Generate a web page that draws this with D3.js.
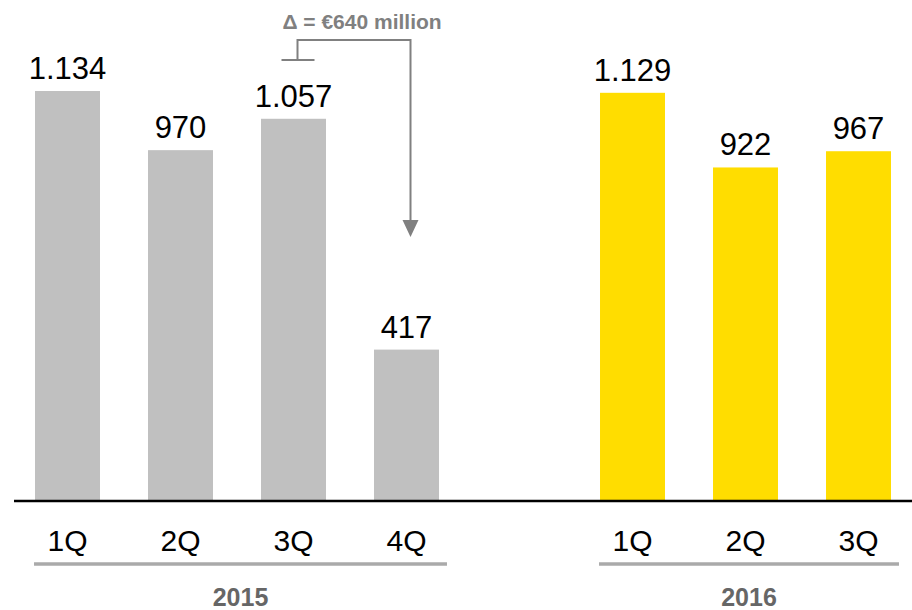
<!DOCTYPE html>
<html>
<head>
<meta charset="utf-8">
<script src="https://cdn.jsdelivr.net/npm/d3@7"></script>
<style>
  body { margin: 0; background: #fff; }
  svg { display: block; font-family: Arial, 'Liberation Sans', sans-serif; }
</style>
</head>
<body>
<svg width="912" height="610"></svg>
<script>
const quarters2015 = ['1Q', '2Q', '3Q', '4Q']
const values2015 = [1134, 970, 1057, 417]
const labels2015 = ['1.134', '970', '1.057', '417']

const quarters2016 = ['1Q', '2Q', '3Q']
const values2016 = [1129, 922, 967]
const labels2016 = ['1.129', '922', '967']

const years = ['2015', '2016']
const deltaText = 'Δ = €640 million'

const svg = d3.select('svg')

// one slot per quarter, plus an empty slot between the two years
const bars = [
  ...quarters2015.map((q, i) => ({ key: '2015-' + q, q, v: values2015[i], label: labels2015[i], year: '2015', fill: '#c0c0c0' })),
  ...quarters2016.map((q, i) => ({ key: '2016-' + q, q, v: values2016[i], label: labels2016[i], year: '2016', fill: '#ffdd00' }))
]
const slots = [...bars.slice(0, 4).map(d => d.key), 'gap', ...bars.slice(4).map(d => d.key)]

const x = d3.scaleBand()
  .domain(slots)
  .range([11, 915])
  .paddingInner(0.425)
  .paddingOuter(0.2125)

const y = d3.scaleLinear()
  .domain([0, d3.max([...values2015, ...values2016])])
  .range([500, 91])

svg.append('g')
  .selectAll('rect')
  .data(bars)
  .join('rect')
  .attr('x', d => x(d.key))
  .attr('y', d => y(d.v))
  .attr('width', x.bandwidth())
  .attr('height', d => y(0) - y(d.v))
  .attr('fill', d => d.fill)

svg.append('g')
  .selectAll('text')
  .data(bars)
  .join('text')
  .attr('x', d => x(d.key) + x.bandwidth() / 2)
  .attr('y', d => y(d.v) - 12)
  .attr('text-anchor', 'middle')
  .attr('font-size', 31)
  .attr('fill', '#000')
  .text(d => d.label)

// baseline
svg.append('line')
  .attr('x1', 14).attr('x2', 912)
  .attr('y1', y(0) + 1).attr('y2', y(0) + 1)
  .attr('stroke', '#000')
  .attr('stroke-width', 2.5)

// quarter labels
svg.append('g')
  .selectAll('text')
  .data(bars)
  .join('text')
  .attr('x', d => x(d.key) + x.bandwidth() / 2)
  .attr('y', 551)
  .attr('text-anchor', 'middle')
  .attr('font-size', 30)
  .attr('fill', '#000')
  .text(d => d.q)

// year groups
years.forEach(yr => {
  const grp = bars.filter(d => d.year === yr)
  const x0 = x(grp[0].key) - 1
  const x1 = x(grp[grp.length - 1].key) + x.bandwidth() + 8
  svg.append('line')
    .attr('x1', x0).attr('x2', x1)
    .attr('y1', 564).attr('y2', 564)
    .attr('stroke', '#aaaaaa')
    .attr('stroke-width', 3.5)
  svg.append('text')
    .attr('x', (x0 + x1) / 2)
    .attr('y', 606)
    .attr('text-anchor', 'middle')
    .attr('font-size', 25)
    .attr('font-weight', 'bold')
    .attr('fill', '#666666')
    .text(yr)
})

// delta annotation
const ann = svg.append('g')
  .attr('stroke', '#808080')
  .attr('stroke-width', 2)
  .attr('fill', 'none')
const bx = x('2015-3Q') + x.bandwidth() / 2 + 4
const ax = x('2015-4Q') + x.bandwidth() / 2 + 4
ann.append('line').attr('x1', bx - 16).attr('x2', bx + 17).attr('y1', 60).attr('y2', 60)
ann.append('path').attr('d', `M${bx},60V40H${ax}V222`)
svg.append('path')
  .attr('d', `M${ax - 8},220L${ax + 8},220L${ax},237Z`)
  .attr('fill', '#808080')

svg.append('text')
  .attr('x', 362)
  .attr('y', 29)
  .attr('text-anchor', 'middle')
  .attr('font-size', 21)
  .attr('font-weight', 'bold')
  .attr('fill', '#808080')
  .text(deltaText)
</script>
</body>
</html>
